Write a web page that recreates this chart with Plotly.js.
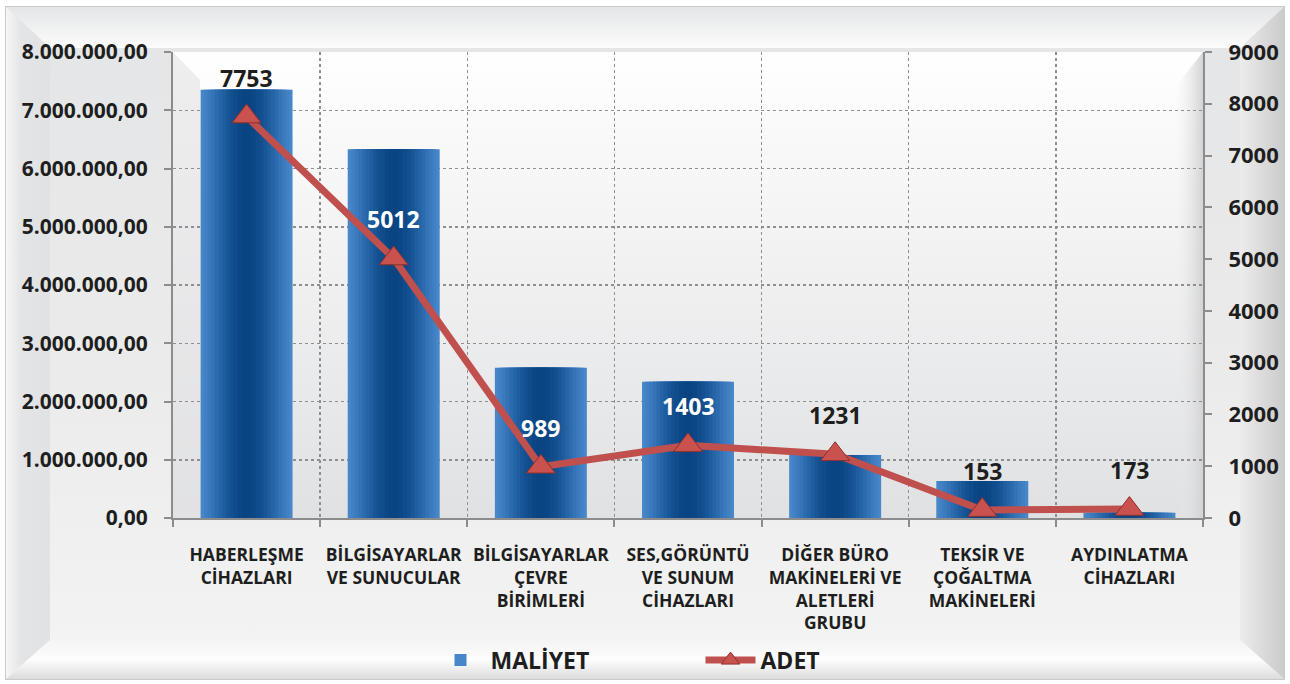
<!DOCTYPE html>
<html>
<head>
<meta charset="utf-8">
<script src="https://cdn.plot.ly/plotly-3.0.1.min.js"></script>
<style>
  html, body { margin: 0; padding: 0; background: #ffffff; }
  #chart { width: 1290px; height: 684px; background-repeat: no-repeat; }
</style>
</head>
<body>
<div id="chart"></div>
<script>
// ---------- DATA ----------
const categories = [
  "HABERLEŞME<br>CİHAZLARI",
  "BİLGİSAYARLAR<br>VE SUNUCULAR",
  "BİLGİSAYARLAR<br>ÇEVRE<br>BİRİMLERİ",
  "SES,GÖRÜNTÜ<br>VE SUNUM<br>CİHAZLARI",
  "DİĞER BÜRO<br>MAKİNELERİ VE<br>ALETLERİ<br>GRUBU",
  "TEKSİR VE<br>ÇOĞALTMA<br>MAKİNELERİ",
  "AYDINLATMA<br>CİHAZLARI"
];
const maliyet = [7350000, 6330000, 2580000, 2340000, 1080000, 635000, 90000];
const adet = [7753, 5012, 989, 1403, 1231, 153, 173];
const leftTicks = [0, 1000000, 2000000, 3000000, 4000000, 5000000, 6000000, 7000000, 8000000];
const rightTicks = [0, 1000, 2000, 3000, 4000, 5000, 6000, 7000, 8000, 9000];

// ---------- STYLE ----------
const FONT = "Open Sans, Noto Sans, DejaVu Sans, sans-serif";
const labelColors = ["#1e1e1e", "#ffffff", "#ffffff", "#ffffff", "#1e1e1e", "#1e1e1e", "#1e1e1e"];
const barLayers = [
  {w: 0.625, c: "#4787c9"},
  {w: 0.58,  c: "#4181c3"},
  {w: 0.53,  c: "#3a7abd"},
  {w: 0.48,  c: "#3373b6"},
  {w: 0.43,  c: "#2c6cae"},
  {w: 0.38,  c: "#2564a6"},
  {w: 0.33,  c: "#1f5d9e"},
  {w: 0.28,  c: "#195697"},
  {w: 0.23,  c: "#145090"},
  {w: 0.18,  c: "#104b8a"},
  {w: 0.12,  c: "#0c4785"},
  {w: 0.06,  c: "#0a4582"}
];

// background (chart area bevel + plot area) as SVG
const bg = `<svg xmlns='http://www.w3.org/2000/svg' width='1290' height='684'>
<defs>
<linearGradient id='base' x1='0' y1='0' x2='0' y2='1'>
<stop offset='0' stop-color='#e4e5e6'/><stop offset='0.55' stop-color='#ebebec'/><stop offset='1' stop-color='#f4f4f4'/></linearGradient>
<linearGradient id='top' x1='0' y1='0' x2='0' y2='1'>
<stop offset='0' stop-color='#e4e5e6'/><stop offset='1' stop-color='#fcfcfc'/></linearGradient>
<linearGradient id='bot' x1='0' y1='0' x2='0' y2='1'>
<stop offset='0' stop-color='#f4f4f4'/><stop offset='0.5' stop-color='#fdfdfd'/><stop offset='1' stop-color='#dcdcdc'/></linearGradient>
<linearGradient id='right' x1='0' y1='0' x2='1' y2='0'>
<stop offset='0' stop-color='#ececec'/><stop offset='1' stop-color='#cbcbcb'/></linearGradient>
<linearGradient id='left' x1='0' y1='0' x2='1' y2='0'>
<stop offset='0' stop-color='#f6f6f6'/><stop offset='0.35' stop-color='#e3e4e6'/><stop offset='1' stop-color='#e1e2e4'/></linearGradient>
<linearGradient id='plot' x1='0' y1='0' x2='0' y2='1'>
<stop offset='0' stop-color='#ffffff'/><stop offset='0.12' stop-color='#fbfbfb'/><stop offset='1' stop-color='#e0e1e3'/></linearGradient>
<linearGradient id='pright' x1='0' y1='0' x2='1' y2='0'>
<stop offset='0' stop-color='#ebebec' stop-opacity='0'/><stop offset='1' stop-color='#d2d3d4'/></linearGradient>
</defs>
<rect x='0' y='0' width='1290' height='684' fill='#ffffff'/>
<rect x='5.5' y='6.5' width='1279' height='673' fill='url(#base)' stroke='#c9c9c9'/>
<polygon points='6,7 1284,7 1240,48 50,48' fill='url(#top)'/>
<polygon points='6,7 50,48 50,640 6,679' fill='url(#left)'/>
<polygon points='1284,7 1240,48 1240,640 1284,679' fill='url(#right)'/>
<polygon points='6,679 50,640 1240,640 1284,679' fill='url(#bot)'/>
<rect x='173' y='52' width='1030' height='466' fill='url(#plot)'/>
<polygon points='173,52 200,80 200,518 173,518' fill='#e2e3e5' opacity='0.6'/>
<polygon points='1203,52 1176,86 1176,518 1203,518' fill='url(#pright)'/>
</svg>`;
document.getElementById("chart").style.backgroundImage =
  "url(\"data:image/svg+xml;charset=utf-8," + encodeURIComponent(bg) + "\")";

// ---------- TRACES ----------
const traces = barLayers.map((L, i) => ({
  type: "bar",
  x: categories,
  y: maliyet,
  width: L.w,
  name: "MALİYET",
  showlegend: i === 0,
  legendgroup: "m",
  marker: {color: L.c, line: {width: 0}},
  hoverinfo: "skip"
}));
traces.push({
  type: "scatter",
  mode: "lines+markers",
  x: categories,
  y: adet,
  yaxis: "y2",
  name: "ADET",
  line: {color: "#c0504d", width: 7},
  marker: {symbol: "triangle-up", size: 25, color: "#c9524f", line: {color: "#8e302d", width: 1}}
});

const annotations = adet.map((v, i) => ({
  x: categories[i], y: v, xref: "x", yref: "y2",
  text: String(v), showarrow: false, yshift: 39,
  font: {family: FONT, size: 23, color: labelColors[i], weight: "bold"}
}));

const layout = {
  width: 1290, height: 684,
  margin: {l: 173, r: 87, t: 52, b: 166, pad: 0, autoexpand: false},
  paper_bgcolor: "rgba(0,0,0,0)",
  plot_bgcolor: "rgba(0,0,0,0)",
  separators: ",.",
  barmode: "overlay",
  showlegend: true,
  font: {family: FONT, color: "#1e1e1e"},
  xaxis: {
    type: "category",
    tickson: "boundaries",
    tickangle: 0,
    automargin: false,
    showgrid: true, gridcolor: "#8f8f8f", griddash: "dot", gridwidth: 1.5,
    showline: true, linecolor: "#8c8c8c", linewidth: 2,
    ticks: "outside", ticklen: 7, tickwidth: 2, tickcolor: "#8c8c8c",
    ticklabelstandoff: 20,
    tickfont: {family: FONT, size: 17.5, color: "#1e1e1e", weight: "bold"},
    zeroline: false, fixedrange: true
  },
  yaxis: {
    range: [0, 8000000],
    automargin: false,
    tickvals: leftTicks,
    tickformat: ",.2f",
    showgrid: true, gridcolor: "#8f8f8f", griddash: "dot", gridwidth: 1.5,
    showline: true, linecolor: "#8c8c8c", linewidth: 2,
    ticks: "outside", ticklen: 7, tickwidth: 2, tickcolor: "#8c8c8c",
    ticklabelstandoff: 12,
    tickfont: {family: FONT, size: 21, color: "#1e1e1e", weight: "bold"},
    zeroline: false, fixedrange: true
  },
  yaxis2: {
    overlaying: "y", side: "right",
    range: [0, 9000],
    automargin: false,
    tickvals: rightTicks,
    tickformat: "d",
    showgrid: false,
    showline: true, linecolor: "#8c8c8c", linewidth: 2,
    ticks: "outside", ticklen: 7, tickwidth: 2, tickcolor: "#8c8c8c",
    ticklabelstandoff: 12,
    tickfont: {family: FONT, size: 22, color: "#1e1e1e", weight: "bold"},
    zeroline: false, fixedrange: true
  },
  legend: {
    orientation: "h",
    x: 0.25, xanchor: "left",
    y: -0.305, yanchor: "middle",
    bgcolor: "rgba(0,0,0,0)",
    entrywidth: 205, entrywidthmode: "pixels",
    itemwidth: 50,
    font: {family: FONT, size: 23, color: "#1e1e1e", weight: "bold"}
  },
  annotations: annotations
};

Plotly.newPlot("chart", traces, layout, {displayModeBar: false, staticPlot: true});
</script>
</body>
</html>
